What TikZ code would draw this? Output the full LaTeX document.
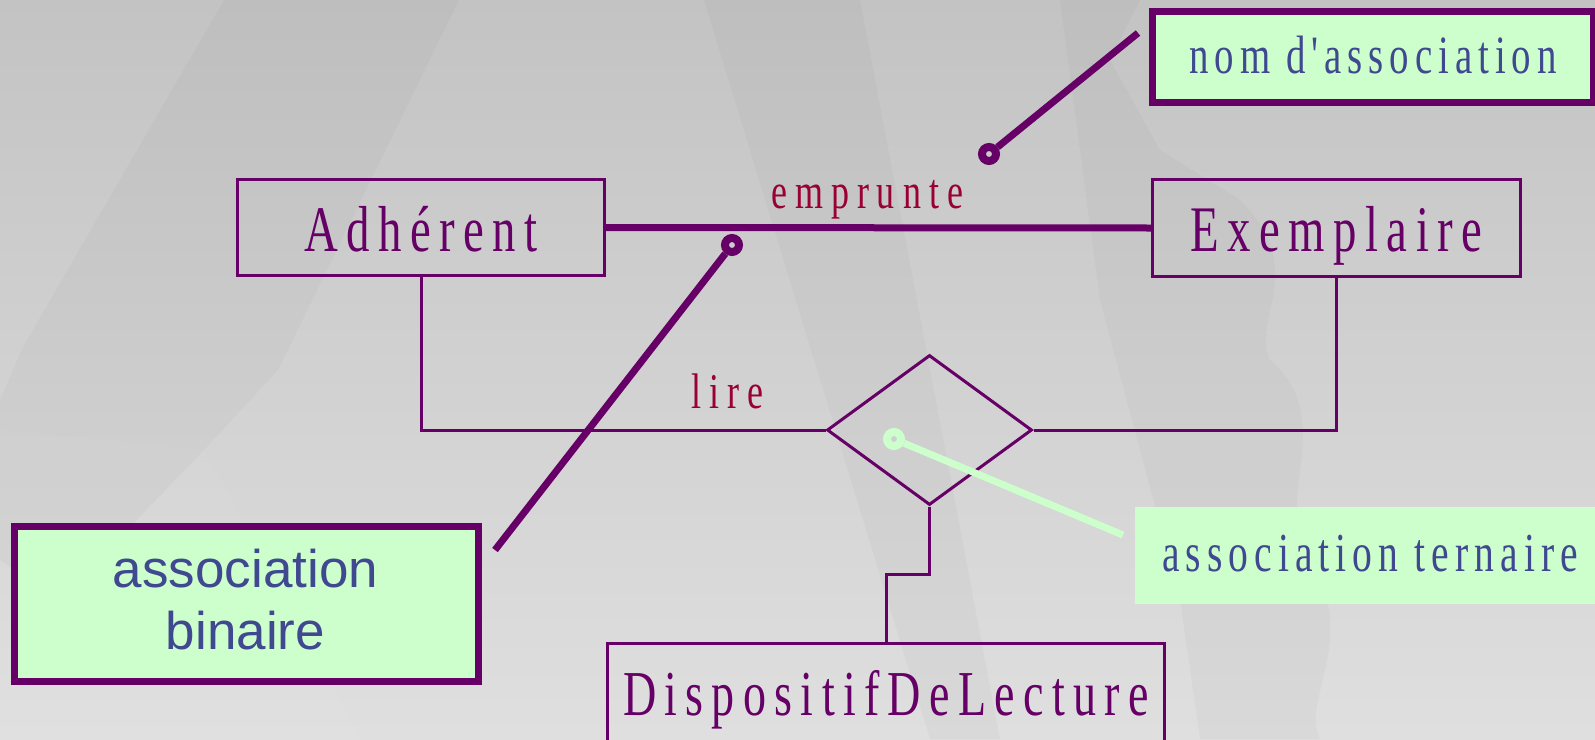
\documentclass[tikz,border=0pt]{standalone}
\usepackage{fontspec}
\setmainfont{Liberation Serif}
\setsansfont{Liberation Sans}
\newfontfamily\nameserif[FakeStretch=0.72,LetterSpace=13]{Liberation Serif}
\newfontfamily\labelserif[FakeStretch=0.72,LetterSpace=16]{Liberation Serif}
\newfontfamily\noteserif[FakeStretch=0.72,LetterSpace=11]{Liberation Serif}
\usetikzlibrary{shapes.geometric}

\definecolor{umlpurple}{RGB}{102,0,102}
\definecolor{rolered}{RGB}{153,0,51}
\definecolor{notegreen}{RGB}{204,255,204}
\definecolor{noteblue}{RGB}{64,72,144}
\definecolor{bgtop}{RGB}{195,195,195}
\definecolor{bgbottom}{RGB}{223,223,223}

\tikzset{
  classbox/.style={draw=umlpurple, line width=3pt, inner sep=0pt, text=umlpurple,
    font=\nameserif\fontsize{65}{70}\selectfont, text height=47pt, text depth=0pt},
  link/.style={draw=umlpurple, line width=3pt},
  assocline/.style={draw=umlpurple, line width=7pt},
  rolelabel/.style={text=rolered, font=\labelserif\fontsize{50}{56}\selectfont,
    inner sep=0pt, anchor=base},
  relation/.style={diamond, draw=umlpurple, line width=3pt, inner sep=0pt,
    minimum width=205pt, minimum height=150pt},
  notebox/.style={fill=notegreen, draw=umlpurple, line width=7pt, inner sep=0pt,
    text=noteblue},
  plainnote/.style={fill=notegreen, inner sep=0pt, text=noteblue},
  pin/.style={circle, draw=#1, line width=8pt, minimum size=14pt, inner sep=0pt},
  leader/.style={draw=#1, line width=7pt},
  bgshape/.style={fill=black, opacity=0.025}
}

\begin{document}
\begin{tikzpicture}[x=1pt, y=-1pt]
  \useasboundingbox (0,0) rectangle (1595,739);
  \clip (0,0) rectangle (1595,739);

  % background: soft grey gradient with faint large letter forms
  \shade[top color=bgtop, bottom color=bgbottom] (0,0) rectangle (1595,739);
  \fill[bgshape] (224,0) -- (459,0) -- (278,370) -- (204,450) -- (60,600) -- (0,560) -- (0,400) -- (23,347) -- cycle;
  \fill[bgshape] (704,0) -- (860,0) -- (1000,739) -- (930,739) -- cycle;
  \fill[bgshape] (1060,0) -- (1140,0) -- (1110,60) -- (1160,150) -- (1240,200)
     .. controls (1310,270) and (1250,320) .. (1270,360)
     .. controls (1340,420) and (1270,500) .. (1310,560)
     .. controls (1360,640) and (1300,700) .. (1320,739) -- (1200,739) -- (1180,600) -- (1100,300) -- cycle;
  \fill[white, opacity=0.04] (0,430) -- (204,450) -- (360,739) -- (0,739) -- cycle;

  % classes
  \node[classbox, minimum width=367pt, minimum height=96pt] (adh) at (421,227.5) {Adhérent};
  \node[classbox, minimum width=368pt, minimum height=97pt] (exe) at (1336.5,228) {Exemplaire};
  \node[classbox, minimum width=557pt, minimum height=146pt, text height=0pt, text depth=3pt,
        font=\nameserif\fontsize{64}{70}\selectfont]
     (disp) at (886,716.5) {DispositifDeLecture};

  % ternary relation
  \node[relation] (rel) at (929.5,430) {};

  % binary association
  \draw[assocline] (adh.east) -- (exe.west);
  \node[rolelabel] (emp) at (867,208) {emprunte};

  % ternary association legs
  \draw[link] (adh.south) |- (rel.west);
  \draw[link] (exe.south) |- (rel.east);
  \draw[link] (rel.south) -- ++(0,68) -| (disp.north);
  \node[rolelabel] (lire) at (727,408) {lire};

  % notes
  \node[notebox, minimum width=441.5pt, minimum height=91pt, text height=32pt, text depth=0pt,
        font=\noteserif\fontsize{54}{58}\selectfont] (nom) at (1373,57) {nom d'association};
  \node[notebox, minimum width=464pt, minimum height=155pt] (bin) at (246.5,604) {};
  \node[text=noteblue, align=center, inner sep=0pt,
        font=\sffamily\fontsize{53}{62}\selectfont] (bintext) at (245.5,600) {association\\binaire};
  \node[plainnote, minimum width=470pt, minimum height=97pt, text height=31pt, text depth=0pt,
        font=\noteserif\fontsize{55}{60}\selectfont] (ter) at (1370,555.5) {association ternaire};

  % note leaders
  \coordinate (nomend) at (1138,33);
  \coordinate (binend) at (495,550);
  \coordinate (terend) at (1123,535);
  \node[pin=umlpurple] (nompin) at (989,154) {};
  \node[pin=umlpurple] (binpin) at (732,245) {};
  \node[pin=notegreen] (terpin) at (894,439) {};
  \draw[leader=umlpurple] (nompin) -- (nomend);
  \draw[leader=umlpurple] (binpin) -- (binend);
  \draw[leader=notegreen] (terpin) -- (terend);
\end{tikzpicture}
\end{document}
